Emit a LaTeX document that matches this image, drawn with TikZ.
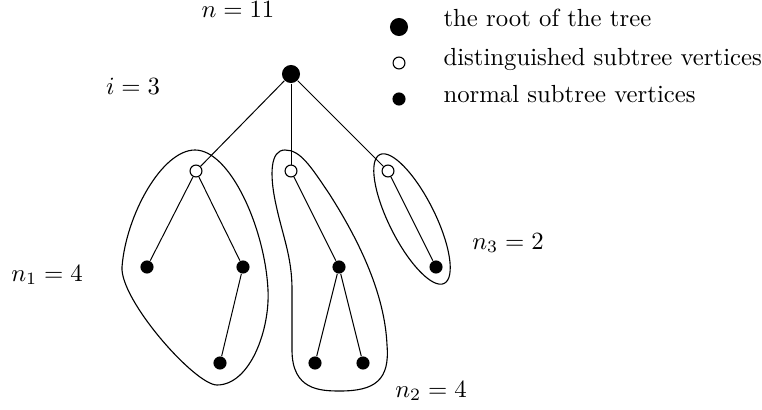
\documentclass[tikz,border=0pt]{standalone}
\usetikzlibrary{positioning}
\begin{document}
\begin{tikzpicture}[x=0.404pt, y=-0.404pt, every node/.style={inner sep=0pt},
  rootv/.style={circle, fill=black, minimum size=7.3pt},
  distv/.style={circle, draw, fill=white, line width=0.45pt, minimum size=4.8pt},
  normv/.style={circle, fill=black, minimum size=5.3pt},
  blob/.style={line width=0.45pt}]
  \useasboundingbox (0,0) rectangle (762,409);

  % tree
  \node[rootv] (r) at (291,74) {};
  \node[distv] (a) at (196,171) {};
  \node[distv] (b) at (291,171) {};
  \node[distv] (c) at (388,171) {};
  \node[normv] (a1) at (147,267) {};
  \node[normv] (a2) at (243,267) {};
  \node[normv] (a3) at (220,363) {};
  \node[normv] (b1) at (339,267) {};
  \node[normv] (b2) at (315,363) {};
  \node[normv] (b3) at (363,363) {};
  \node[normv] (c1) at (436,267) {};

  \draw (r) -- (a);
  \draw (r) -- (b);
  \draw (r) -- (c);
  \draw (a) -- (a1);
  \draw (a) -- (a2);
  \draw (a2) -- (a3);
  \draw (b) -- (b1);
  \draw (b1) -- (b2);
  \draw (b1) -- (b3);
  \draw (c) -- (c1);

  % subtrees
  \draw[blob] (195,150) .. controls (162,150) and (126,215) .. (122,267)
    .. controls (120,300) and (195,385) .. (217,385)
    .. controls (250,385) and (270,330) .. (268,290)
    .. controls (265,228) and (230,150) .. (195,150) -- cycle;
  \draw[blob] (285,150) .. controls (270,150) and (270,175) .. (275,200)
    .. controls (282,235) and (292,255) .. (292,290) -- (292,350)
    .. controls (292,390) and (320,391) .. (340,391)
    .. controls (375,391) and (390,380) .. (387,345)
    .. controls (385,300) and (365,250) .. (330,195)
    .. controls (310,165) and (300,150) .. (285,150) -- cycle;
  \draw[blob, rotate around={-63.4:(412,219)}] (412,219) ellipse [x radius=72, y radius=23];

  % labels
  \node at (238,10) {$n=11$};
  \node at (133,86) {$i=3$};
  \node at (47,275) {$n_1=4$};
  \node at (431,391) {$n_2=4$};
  \node at (508,243) {$n_3=2$};

  % legend
  \node[rootv] (lr) at (399,27) {};
  \node[distv] (ld) at (399,63) {};
  \node[normv] (ln) at (399,99) {};
  \node[anchor=base west] (tr) at (443,27) {the root of the tree};
  \node[anchor=base west] (td) at (443,66) {distinguished subtree vertices};
  \node[anchor=base west] (tn) at (443,103) {normal subtree vertices};
\end{tikzpicture}
\end{document}
